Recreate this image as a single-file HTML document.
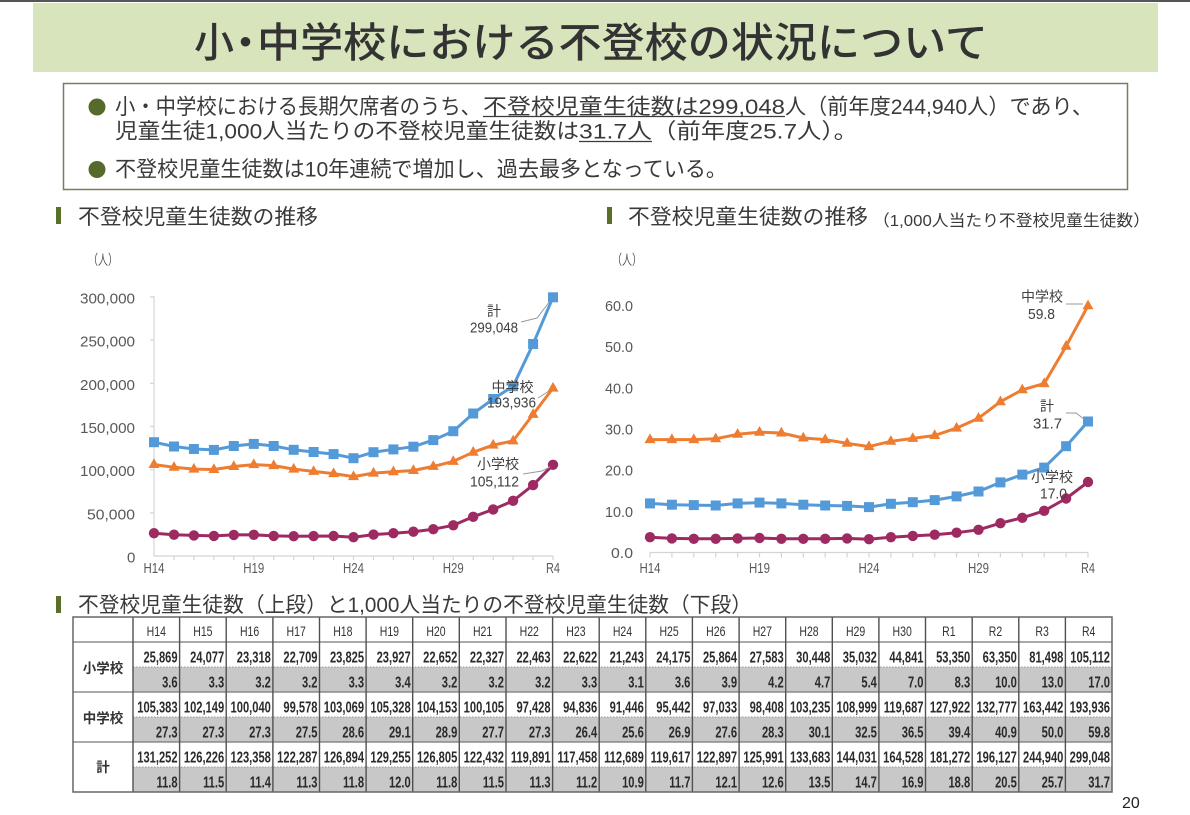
<!DOCTYPE html>
<html><head><meta charset="utf-8">
<style>
html,body{margin:0;padding:0;background:#fff;}
body{width:1190px;height:815px;overflow:hidden;}
svg{display:block;}
.jp{font-family:"Liberation Sans","Noto Sans CJK JP",sans-serif;}
.n{font-family:"Liberation Sans",sans-serif;}
</style></head>
<body>
<svg width="1190" height="815" viewBox="0 0 1190 815" xmlns="http://www.w3.org/2000/svg">
<defs>
<marker id="msq" viewBox="0 0 12 12" refX="6" refY="6" markerWidth="12" markerHeight="12" markerUnits="userSpaceOnUse"><rect x="1" y="1" width="10" height="10" fill="#559ad8"/></marker>
<marker id="mtri" viewBox="0 0 12 12" refX="6" refY="7" markerWidth="12" markerHeight="12" markerUnits="userSpaceOnUse"><path d="M6,0.8 L11.5,10.5 L0.5,10.5Z" fill="#ee7d31"/></marker>
<marker id="mci" viewBox="0 0 12 12" refX="6" refY="6" markerWidth="12" markerHeight="12" markerUnits="userSpaceOnUse"><circle cx="6" cy="6" r="5.2" fill="#9e2a62"/></marker>
</defs>

<!-- top line & title bar -->
<rect x="0" y="0" width="1190" height="2" fill="#555"/>
<rect x="33" y="3" width="1125" height="69" fill="#d8e4bc"/>
<g class="jp" font-size="41" font-weight="500" fill="#333">
<text x="194" y="57" textLength="40" lengthAdjust="spacingAndGlyphs">小</text>
<text x="225" y="57">・</text>
<text x="257" y="57" textLength="731" lengthAdjust="spacingAndGlyphs">中学校における不登校の状況について</text>
</g>

<!-- summary box -->
<rect x="63.5" y="83.5" width="1064" height="106" fill="#fff" stroke="#7a7d5c" stroke-width="1.5"/>
<circle cx="97" cy="107" r="8.5" fill="#566b2b"/>
<circle cx="97" cy="169.5" r="8.5" fill="#566b2b"/>
<g class="jp" font-size="21.5" fill="#3a3a3a">
<text x="115" y="114" textLength="366" lengthAdjust="spacingAndGlyphs">小・中学校における長期欠席者のうち、</text>
<text x="483" y="114" textLength="302" lengthAdjust="spacingAndGlyphs">不登校児童生徒数は299,048</text>
<text x="785" y="114" textLength="308" lengthAdjust="spacingAndGlyphs">人（前年度244,940人）であり、</text>
<text x="115" y="138.5" textLength="464" lengthAdjust="spacingAndGlyphs">児童生徒1,000人当たりの不登校児童生徒数は</text>
<text x="579" y="138.5" textLength="73" lengthAdjust="spacingAndGlyphs">31.7人</text>
<text x="652" y="138.5" textLength="206" lengthAdjust="spacingAndGlyphs">（前年度25.7人）。</text>
<text x="115" y="176.5" textLength="612" lengthAdjust="spacingAndGlyphs">不登校児童生徒数は10年連続で増加し、過去最多となっている。</text>
</g>
<line x1="483" y1="116.5" x2="785" y2="116.5" stroke="#3a3a3a" stroke-width="1.3"/>
<line x1="579" y1="141.5" x2="652" y2="141.5" stroke="#3a3a3a" stroke-width="1.3"/>

<!-- section headers -->
<rect x="56" y="207" width="5" height="17" fill="#5a7028"/>
<text class="jp" x="78" y="224" font-size="21" fill="#3a3a3a" textLength="240" lengthAdjust="spacingAndGlyphs">不登校児童生徒数の推移</text>
<rect x="607" y="207" width="5" height="17" fill="#5a7028"/>
<text class="jp" x="628" y="224" font-size="21" fill="#3a3a3a" textLength="240" lengthAdjust="spacingAndGlyphs">不登校児童生徒数の推移</text>
<text class="jp" x="873" y="226" font-size="16" fill="#3a3a3a" textLength="277" lengthAdjust="spacingAndGlyphs">（1,000人当たり不登校児童生徒数）</text>

<text class="jp" x="88" y="265" font-size="14" fill="#555" textLength="30" lengthAdjust="spacingAndGlyphs">（人）</text>
<text class="jp" x="612" y="265" font-size="14" fill="#555" textLength="30" lengthAdjust="spacingAndGlyphs">（人）</text>

<!-- LEFT CHART axes -->
<g stroke="#d4d4d4" stroke-width="1.2" fill="none">
<path d="M154,296V556H553"/>
<path d="M150,297H154M150,340.2H154M150,383.3H154M150,426.5H154M150,469.7H154M150,512.8H154"/>
<path d="M174,556v4M193.9,556v4M213.9,556v4M233.8,556v4M253.8,556v4M273.7,556v4M293.7,556v4M313.6,556v4M333.6,556v4M353.5,556v4M373.5,556v4M393.4,556v4M413.4,556v4M433.3,556v4M453.3,556v4M473.2,556v4M493.2,556v4M513.1,556v4M533.1,556v4M553,556v4"/>
</g>
<g class="n" font-size="15" fill="#595959">
<text x="80" y="303.5" textLength="55" lengthAdjust="spacingAndGlyphs">300,000</text>
<text x="80" y="346.7" textLength="55" lengthAdjust="spacingAndGlyphs">250,000</text>
<text x="80" y="389.8" textLength="55" lengthAdjust="spacingAndGlyphs">200,000</text>
<text x="80" y="433" textLength="55" lengthAdjust="spacingAndGlyphs">150,000</text>
<text x="80" y="476.2" textLength="55" lengthAdjust="spacingAndGlyphs">100,000</text>
<text x="87" y="519.3" textLength="48" lengthAdjust="spacingAndGlyphs">50,000</text>
<text x="127" y="562.5">0</text>
<text x="143.5" y="573" textLength="21" lengthAdjust="spacingAndGlyphs">H14</text>
<text x="243.3" y="573" textLength="21" lengthAdjust="spacingAndGlyphs">H19</text>
<text x="343" y="573" textLength="21" lengthAdjust="spacingAndGlyphs">H24</text>
<text x="442.8" y="573" textLength="21" lengthAdjust="spacingAndGlyphs">H29</text>
<text x="546" y="573" textLength="14" lengthAdjust="spacingAndGlyphs">R4</text>
</g>

<g fill="none" stroke-width="3" stroke-linejoin="round">
<polyline stroke="#559ad8" marker-start="url(#msq)" marker-mid="url(#msq)" marker-end="url(#msq)" points="154,442.2 174,446.5 193.9,449 213.9,449.9 233.8,446 253.8,443.9 273.7,446 293.7,449.8 313.6,452 333.6,454.1 353.5,458.2 373.5,452.2 393.4,449.4 413.4,446.7 433.3,440.1 453.3,431.2 473.2,413.5 493.2,399 513.1,386.2 533.1,344 553,297.3"/>
<polyline stroke="#ee7d31" marker-start="url(#mtri)" marker-mid="url(#mtri)" marker-end="url(#mtri)" points="154,464.5 174,467.3 193.9,469.1 213.9,469.5 233.8,466.5 253.8,464.6 273.7,465.6 293.7,469.1 313.6,471.4 333.6,473.6 353.5,476.6 373.5,473.1 393.4,471.7 413.4,470.5 433.3,466.4 453.3,461.4 473.2,452.2 493.2,445.1 513.1,440.9 533.1,414.4 553,388.1"/>
<polyline stroke="#9e2a62" marker-start="url(#mci)" marker-mid="url(#mci)" marker-end="url(#mci)" points="154,533.2 174,534.7 193.9,535.4 213.9,535.9 233.8,534.9 253.8,534.8 273.7,535.9 293.7,536.2 313.6,536.1 333.6,536 353.5,537.2 373.5,534.6 393.4,533.2 413.4,531.7 433.3,529.2 453.3,525.3 473.2,516.8 493.2,509.4 513.1,500.8 533.1,485.1 553,464.8"/>
</g>
<g fill="none" stroke="#999" stroke-width="1">
<path d="M521,322 L537,318 L550,301"/>
<path d="M538,398 L549,391"/>
<path d="M523,474 L542,471 L550,467"/>
</g>
<g fill="#404040">
<text class="jp" x="494" y="316" font-size="14" text-anchor="middle">計</text>
<text class="n" x="470" y="332.5" font-size="15" textLength="48" lengthAdjust="spacingAndGlyphs">299,048</text>
<text class="jp" x="512.5" y="392" font-size="14" text-anchor="middle">中学校</text>
<text class="n" x="487" y="407.5" font-size="15" textLength="49" lengthAdjust="spacingAndGlyphs">193,936</text>
<text class="jp" x="498" y="469" font-size="14" text-anchor="middle">小学校</text>
<text class="n" x="470" y="486.5" font-size="15" textLength="49" lengthAdjust="spacingAndGlyphs">105,112</text>
</g>

<!-- RIGHT CHART -->
<g stroke="#d4d4d4" stroke-width="1.2" fill="none">
<path d="M650,552.5H1088"/>
<path d="M650,552.5v5M671.9,552.5v5M693.8,552.5v5M715.7,552.5v5M737.6,552.5v5M759.5,552.5v5M781.4,552.5v5M803.3,552.5v5M825.2,552.5v5M847.1,552.5v5M869,552.5v5M890.9,552.5v5M912.8,552.5v5M934.7,552.5v5M956.6,552.5v5M978.5,552.5v5M1000.4,552.5v5M1022.3,552.5v5M1044.2,552.5v5M1066.1,552.5v5M1088,552.5v5"/>
</g>
<g class="n" font-size="15" fill="#595959">
<text x="605" y="311" textLength="28" lengthAdjust="spacingAndGlyphs">60.0</text>
<text x="605" y="352.2" textLength="28" lengthAdjust="spacingAndGlyphs">50.0</text>
<text x="605" y="393.3" textLength="28" lengthAdjust="spacingAndGlyphs">40.0</text>
<text x="605" y="434.5" textLength="28" lengthAdjust="spacingAndGlyphs">30.0</text>
<text x="605" y="475.7" textLength="28" lengthAdjust="spacingAndGlyphs">20.0</text>
<text x="605" y="516.8" textLength="28" lengthAdjust="spacingAndGlyphs">10.0</text>
<text x="611" y="558" textLength="22" lengthAdjust="spacingAndGlyphs">0.0</text>
<text x="639.5" y="573" textLength="21" lengthAdjust="spacingAndGlyphs">H14</text>
<text x="749" y="573" textLength="21" lengthAdjust="spacingAndGlyphs">H19</text>
<text x="858.5" y="573" textLength="21" lengthAdjust="spacingAndGlyphs">H24</text>
<text x="968" y="573" textLength="21" lengthAdjust="spacingAndGlyphs">H29</text>
<text x="1081" y="573" textLength="14" lengthAdjust="spacingAndGlyphs">R4</text>
</g>

<g fill="none" stroke-width="3" stroke-linejoin="round">
<polyline stroke="#ee7d31" marker-start="url(#mtri)" marker-mid="url(#mtri)" marker-end="url(#mtri)" points="650,439.6 671.9,439.6 693.8,439.6 715.7,438.8 737.6,434.3 759.5,432.2 781.4,433 803.3,438 825.2,439.6 847.1,443.3 869,446.6 890.9,441.3 912.8,438.4 934.7,435.5 956.6,428.1 978.5,418.2 1000.4,401.7 1022.3,389.8 1044.2,383.6 1066.1,346.2 1088,305.8"/>
<polyline stroke="#559ad8" marker-start="url(#msq)" marker-mid="url(#msq)" marker-end="url(#msq)" points="650,503.4 671.9,504.7 693.8,505.1 715.7,505.5 737.6,503.4 759.5,502.6 781.4,503.4 803.3,504.7 825.2,505.5 847.1,505.9 869,507.1 890.9,503.8 912.8,502.2 934.7,500.1 956.6,496.4 978.5,491.5 1000.4,482.4 1022.3,474.6 1044.2,467.6 1066.1,446.2 1088,421.5"/>
<polyline stroke="#9e2a62" marker-start="url(#mci)" marker-mid="url(#mci)" marker-end="url(#mci)" points="650,537.2 671.9,538.4 693.8,538.8 715.7,538.8 737.6,538.4 759.5,538 781.4,538.8 803.3,538.8 825.2,538.8 847.1,538.4 869,539.2 890.9,537.2 912.8,535.9 934.7,534.7 956.6,532.7 978.5,529.8 1000.4,523.2 1022.3,517.8 1044.2,510.8 1066.1,498.5 1088,482"/>
</g>
<g fill="none" stroke="#999" stroke-width="1">
<path d="M1066,304 L1083,304"/>
<path d="M1066,413 L1076,413 L1084,419"/>
</g>
<g fill="#404040">
<text class="jp" x="1042" y="301.5" font-size="14" text-anchor="middle">中学校</text>
<text class="n" x="1028" y="319" font-size="15" textLength="27" lengthAdjust="spacingAndGlyphs">59.8</text>
<text class="jp" x="1047" y="411" font-size="14" text-anchor="middle">計</text>
<text class="n" x="1033" y="428.5" font-size="15" textLength="29" lengthAdjust="spacingAndGlyphs">31.7</text>
<text class="jp" x="1052" y="482" font-size="14" text-anchor="middle">小学校</text>
<text class="n" x="1040" y="498.5" font-size="15" textLength="27" lengthAdjust="spacingAndGlyphs">17.0</text>
</g>

<!-- TABLE -->
<rect x="56" y="596" width="5" height="17" fill="#5a7028"/>
<text class="jp" x="78" y="612" font-size="21" fill="#3a3a3a" textLength="674" lengthAdjust="spacingAndGlyphs">不登校児童生徒数（上段）と1,000人当たりの不登校児童生徒数（下段）</text>

<rect x="133" y="667" width="979" height="25" fill="#c8c8c8"/>
<rect x="133" y="717" width="979" height="25" fill="#c8c8c8"/>
<rect x="133" y="767" width="979" height="25" fill="#c8c8c8"/>
<g fill="none" stroke="#999" stroke-width="1" stroke-dasharray="1.5,1.5">
<path d="M133,667H1112M133,717H1112M133,767H1112"/>
</g>
<g fill="none" stroke="#777" stroke-width="1.2">
<path d="M73,642H1112M73,692H1112M73,742H1112"/>
</g>
<g fill="none" stroke="#505050" stroke-width="1.4">
<path d="M133,617V792M179.6,617V792M226.2,617V792M272.9,617V792M319.5,617V792M366.1,617V792M412.7,617V792M459.3,617V792M506,617V792M552.6,617V792M599.2,617V792M645.8,617V792M692.4,617V792M739.1,617V792M785.7,617V792M832.3,617V792M878.9,617V792M925.5,617V792M972.2,617V792M1018.8,617V792M1065.4,617V792"/>
</g>
<rect x="73" y="617" width="1039" height="175" fill="none" stroke="#666" stroke-width="1.5"/>

<g class="jp" font-size="13.5" font-weight="bold" fill="#333" text-anchor="middle">
<text x="103" y="673">小学校</text>
<text x="103" y="723">中学校</text>
<text x="103" y="772">計</text>
</g>

<g transform="scale(0.75,1)" class="n" font-size="14" fill="#333" text-anchor="middle">
<text x="208.4" y="636">H14</text><text x="270.5" y="636">H15</text><text x="332.8" y="636">H16</text><text x="394.9" y="636">H17</text><text x="457.1" y="636">H18</text><text x="519.2" y="636">H19</text><text x="581.3" y="636">H20</text><text x="643.5" y="636">H21</text><text x="705.7" y="636">H22</text><text x="767.9" y="636">H23</text><text x="830" y="636">H24</text><text x="892.1" y="636">H25</text><text x="954.4" y="636">H26</text><text x="1016.5" y="636">H27</text><text x="1078.7" y="636">H28</text><text x="1140.8" y="636">H29</text><text x="1202.9" y="636">H30</text><text x="1265.2" y="636">R1</text><text x="1327.3" y="636">R2</text><text x="1389.5" y="636">R3</text><text x="1451.6" y="636">R4</text>
</g>

<g transform="scale(0.72,1)" class="n" font-size="15.5" font-weight="bold" fill="#2a2a2a" text-anchor="end">
<text x="246.67" y="662.5">25,869</text><text x="311.39" y="662.5">24,077</text><text x="376.25" y="662.5">23,318</text><text x="440.97" y="662.5">22,709</text><text x="505.69" y="662.5">23,825</text><text x="570.42" y="662.5">23,927</text><text x="635.14" y="662.5">22,652</text><text x="700" y="662.5">22,327</text><text x="764.72" y="662.5">22,463</text><text x="829.44" y="662.5">22,622</text><text x="894.17" y="662.5">21,243</text><text x="958.89" y="662.5">24,175</text><text x="1023.75" y="662.5">25,864</text><text x="1088.47" y="662.5">27,583</text><text x="1153.19" y="662.5">30,448</text><text x="1217.92" y="662.5">35,032</text><text x="1282.64" y="662.5">44,841</text><text x="1347.5" y="662.5">53,350</text><text x="1412.22" y="662.5">63,350</text><text x="1476.94" y="662.5">81,498</text><text x="1541.67" y="662.5">105,112</text>

<text x="246.67" y="687.5">3.6</text><text x="311.39" y="687.5">3.3</text><text x="376.25" y="687.5">3.2</text><text x="440.97" y="687.5">3.2</text><text x="505.69" y="687.5">3.3</text><text x="570.42" y="687.5">3.4</text><text x="635.14" y="687.5">3.2</text><text x="700" y="687.5">3.2</text><text x="764.72" y="687.5">3.2</text><text x="829.44" y="687.5">3.3</text><text x="894.17" y="687.5">3.1</text><text x="958.89" y="687.5">3.6</text><text x="1023.75" y="687.5">3.9</text><text x="1088.47" y="687.5">4.2</text><text x="1153.19" y="687.5">4.7</text><text x="1217.92" y="687.5">5.4</text><text x="1282.64" y="687.5">7.0</text><text x="1347.5" y="687.5">8.3</text><text x="1412.22" y="687.5">10.0</text><text x="1476.94" y="687.5">13.0</text><text x="1541.67" y="687.5">17.0</text>

<text x="246.67" y="712.5">105,383</text><text x="311.39" y="712.5">102,149</text><text x="376.25" y="712.5">100,040</text><text x="440.97" y="712.5">99,578</text><text x="505.69" y="712.5">103,069</text><text x="570.42" y="712.5">105,328</text><text x="635.14" y="712.5">104,153</text><text x="700" y="712.5">100,105</text><text x="764.72" y="712.5">97,428</text><text x="829.44" y="712.5">94,836</text><text x="894.17" y="712.5">91,446</text><text x="958.89" y="712.5">95,442</text><text x="1023.75" y="712.5">97,033</text><text x="1088.47" y="712.5">98,408</text><text x="1153.19" y="712.5">103,235</text><text x="1217.92" y="712.5">108,999</text><text x="1282.64" y="712.5">119,687</text><text x="1347.5" y="712.5">127,922</text><text x="1412.22" y="712.5">132,777</text><text x="1476.94" y="712.5">163,442</text><text x="1541.67" y="712.5">193,936</text>

<text x="246.67" y="737.5">27.3</text><text x="311.39" y="737.5">27.3</text><text x="376.25" y="737.5">27.3</text><text x="440.97" y="737.5">27.5</text><text x="505.69" y="737.5">28.6</text><text x="570.42" y="737.5">29.1</text><text x="635.14" y="737.5">28.9</text><text x="700" y="737.5">27.7</text><text x="764.72" y="737.5">27.3</text><text x="829.44" y="737.5">26.4</text><text x="894.17" y="737.5">25.6</text><text x="958.89" y="737.5">26.9</text><text x="1023.75" y="737.5">27.6</text><text x="1088.47" y="737.5">28.3</text><text x="1153.19" y="737.5">30.1</text><text x="1217.92" y="737.5">32.5</text><text x="1282.64" y="737.5">36.5</text><text x="1347.5" y="737.5">39.4</text><text x="1412.22" y="737.5">40.9</text><text x="1476.94" y="737.5">50.0</text><text x="1541.67" y="737.5">59.8</text>

<text x="246.67" y="762.5">131,252</text><text x="311.39" y="762.5">126,226</text><text x="376.25" y="762.5">123,358</text><text x="440.97" y="762.5">122,287</text><text x="505.69" y="762.5">126,894</text><text x="570.42" y="762.5">129,255</text><text x="635.14" y="762.5">126,805</text><text x="700" y="762.5">122,432</text><text x="764.72" y="762.5">119,891</text><text x="829.44" y="762.5">117,458</text><text x="894.17" y="762.5">112,689</text><text x="958.89" y="762.5">119,617</text><text x="1023.75" y="762.5">122,897</text><text x="1088.47" y="762.5">125,991</text><text x="1153.19" y="762.5">133,683</text><text x="1217.92" y="762.5">144,031</text><text x="1282.64" y="762.5">164,528</text><text x="1347.5" y="762.5">181,272</text><text x="1412.22" y="762.5">196,127</text><text x="1476.94" y="762.5">244,940</text><text x="1541.67" y="762.5">299,048</text>

<text x="246.67" y="787.5">11.8</text><text x="311.39" y="787.5">11.5</text><text x="376.25" y="787.5">11.4</text><text x="440.97" y="787.5">11.3</text><text x="505.69" y="787.5">11.8</text><text x="570.42" y="787.5">12.0</text><text x="635.14" y="787.5">11.8</text><text x="700" y="787.5">11.5</text><text x="764.72" y="787.5">11.3</text><text x="829.44" y="787.5">11.2</text><text x="894.17" y="787.5">10.9</text><text x="958.89" y="787.5">11.7</text><text x="1023.75" y="787.5">12.1</text><text x="1088.47" y="787.5">12.6</text><text x="1153.19" y="787.5">13.5</text><text x="1217.92" y="787.5">14.7</text><text x="1282.64" y="787.5">16.9</text><text x="1347.5" y="787.5">18.8</text><text x="1412.22" y="787.5">20.5</text><text x="1476.94" y="787.5">25.7</text><text x="1541.67" y="787.5">31.7</text>
</g>

<text class="n" x="1122" y="808" font-size="16" fill="#222">20</text>
</svg>
</body></html>
